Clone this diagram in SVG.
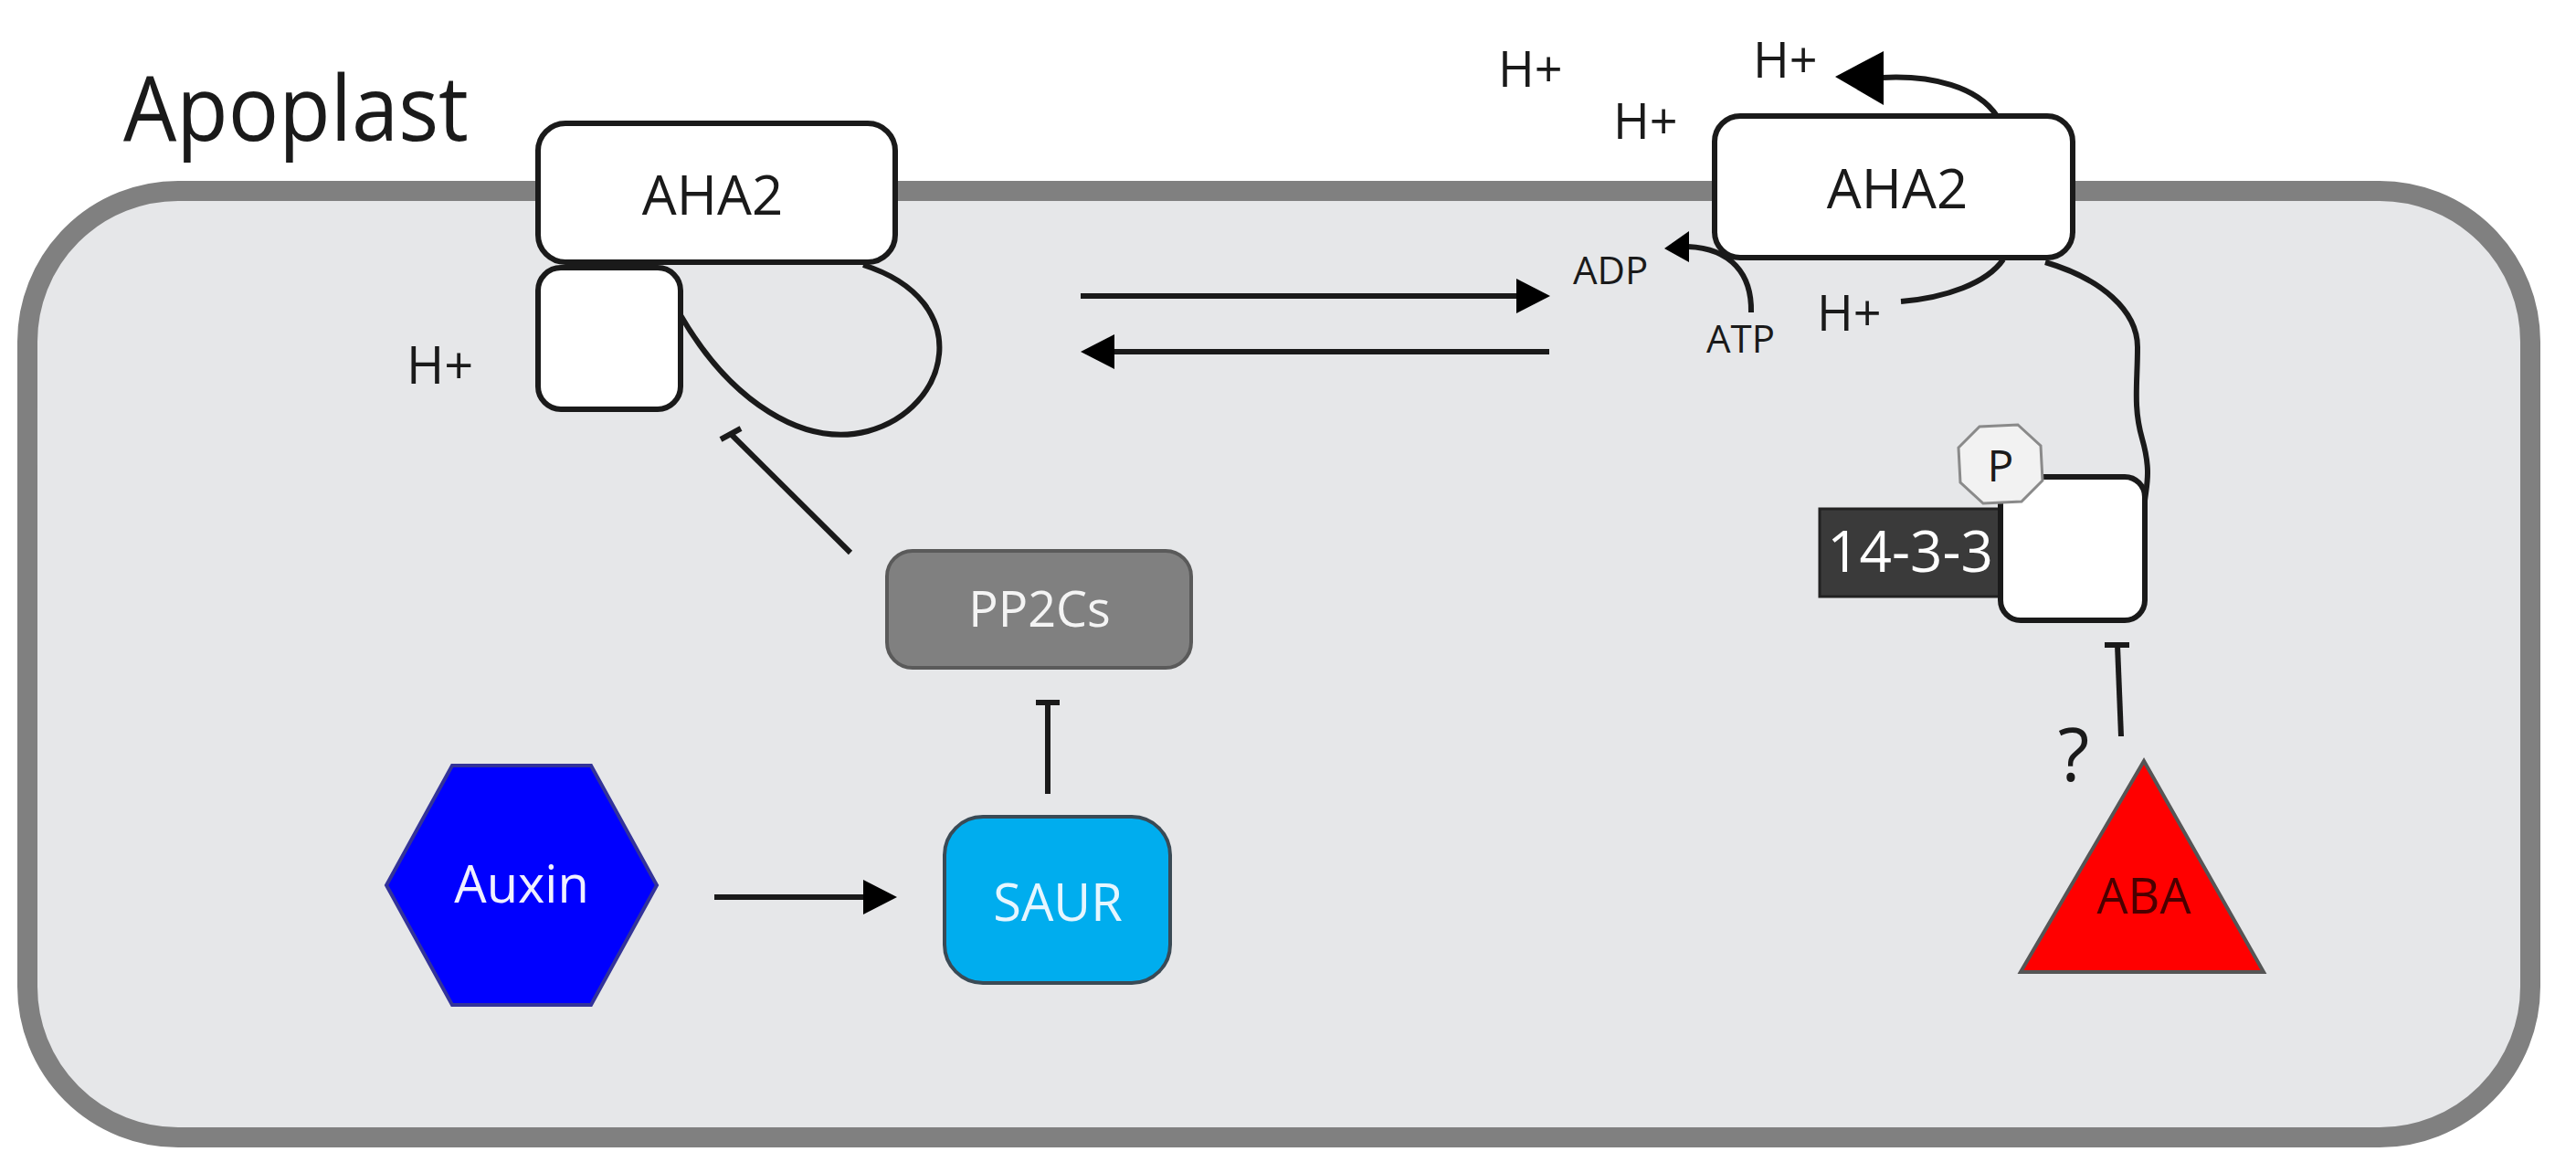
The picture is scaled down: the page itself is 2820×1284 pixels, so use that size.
<svg xmlns="http://www.w3.org/2000/svg" width="2820" height="1284" viewBox="0 0 2820 1284">
<style>
text{font-family:"Open Sans","Liberation Sans",sans-serif;}
.ln{fill:none;stroke:#1a1a1a;stroke-width:6;stroke-linecap:butt}
.box{fill:#fff;stroke:#1a1a1a;stroke-width:6}
.lbl{fill:#1a1a1a}
</style>
<defs>
<marker id="ah" viewBox="0 0 10 10" refX="9" refY="5" markerWidth="6" markerHeight="6" markerUnits="strokeWidth" orient="auto"><path d="M0,0 L10,5 L0,10 z" fill="#000"/></marker>
</defs>
<rect width="2820" height="1284" fill="#fff"/>
<g id="cell"><rect x="30" y="209" width="2740" height="1036" rx="165" fill="#e6e7e9" stroke="#808080" stroke-width="22"/></g>
<text x="135" y="154" font-size="98" textLength="378" lengthAdjust="spacingAndGlyphs" class="lbl">Apoplast</text>

<g id="connectors">
<path class="ln" d="M745,345 C800,440 880,490 950,472 C1040,448 1070,330 945,290"/>
<path class="ln" d="M931,605 L800,475"/>
<path class="ln" d="M789,481 L811,469"/>
<path class="ln" d="M1183,324 L1660,324"/>
<path d="M1697,324 L1660,305 L1660,343 z" fill="#000"/>
<path class="ln" d="M1696,385 L1220,385"/>
<path d="M1183,385 L1220,366 L1220,404 z" fill="#000"/>
<path class="ln" d="M2186,127 C2165,95 2115,82 2060,85"/>
<path d="M2009,84 L2062,56 L2062,115 z" fill="#000"/>
<path class="ln" d="M1917,342 C1918,300 1895,272 1848,270"/>
<path d="M1822,272 L1849,253 L1849,287 z" fill="#000"/>
<path class="ln" d="M2081,330 C2130,326 2175,310 2193,284"/>
<path class="ln" d="M2239,287 C2300,305 2340,340 2340,380 C2340,420 2335,445 2345,480 C2355,515 2350,530 2348,548"/>
<path class="ln" d="M1147,869 L1147,769"/>
<path class="ln" d="M1134,769 L1160,769"/>
<path class="ln" d="M2322,806 L2318,706"/>
<path class="ln" d="M2304,706 L2331,706"/>
<path class="ln" d="M782,982 L945,982"/>
<path d="M982,982 L945,963 L945,1001 z" fill="#000"/>
</g>

<g id="aha2-left">
<rect class="box" x="589" y="293" width="156" height="155" rx="25"/>
<rect class="box" x="589" y="135" width="391" height="152" rx="30"/>
<text x="780" y="235" font-size="60" text-anchor="middle" class="lbl">AHA2</text>
<text x="445" y="420" font-size="56" class="lbl">H+</text>
</g>

<g id="aha2-right">
<rect class="box" x="1877" y="127" width="392" height="155" rx="28"/>
<text x="2077" y="228" font-size="60" text-anchor="middle" class="lbl">AHA2</text>
<text x="1640" y="95" font-size="54" class="lbl">H+</text>
<text x="1766" y="152" font-size="54" class="lbl">H+</text>
<text x="1919" y="85" font-size="54" class="lbl">H+</text>
<text x="1722" y="311" font-size="42" class="lbl">ADP</text>
<text x="1868" y="386" font-size="42" class="lbl">ATP</text>
<text x="1989" y="362" font-size="54" class="lbl">H+</text>
</g>

<g id="complex-1433">
<rect x="1992" y="557" width="200" height="96" fill="#3a3a3a" stroke="#222" stroke-width="3"/>
<text x="2091" y="626" font-size="62" text-anchor="middle" fill="#fff">14-3-3</text>
<rect class="box" x="2190" y="522" width="158" height="157" rx="22"/>
<polygon points="2209,465 2234,488 2236,526 2213,549 2171,551 2146,528 2144,490 2167,467" fill="#f2f2f2" stroke="#8a8a8a" stroke-width="3"/>
<text x="2190" y="527" font-size="48" text-anchor="middle" class="lbl">P</text>
</g>

<g id="pp2cs">
<rect x="971" y="603" width="333" height="128" rx="28" fill="#808080" stroke="#5a5a5a" stroke-width="4"/>
<text x="1138" y="686" font-size="54" text-anchor="middle" fill="#f4f4f4">PP2Cs</text>
</g>

<g id="saur">
<rect x="1034" y="894" width="247" height="182" rx="42" fill="#00adee" stroke="#3a4a55" stroke-width="4"/>
<text x="1158" y="1008" font-size="56" text-anchor="middle" fill="#e6f6ff">SAUR</text>
</g>

<g id="auxin">
<polygon points="495,838 647,838 719,969 647,1100 495,1100 423,969" fill="#0000ff" stroke="#333399" stroke-width="4"/>
<text x="571" y="988" font-size="56" text-anchor="middle" fill="#f0f0ff">Auxin</text>
</g>

<g id="aba">
<polygon points="2347,833 2478,1064 2212,1064" fill="#ff0000" stroke="#555" stroke-width="4"/>
<text x="2347" y="1000" font-size="54" text-anchor="middle" fill="#4a0000">ABA</text>
<text x="2270" y="855" font-size="80" text-anchor="middle" class="lbl">?</text>
</g>
</svg>
